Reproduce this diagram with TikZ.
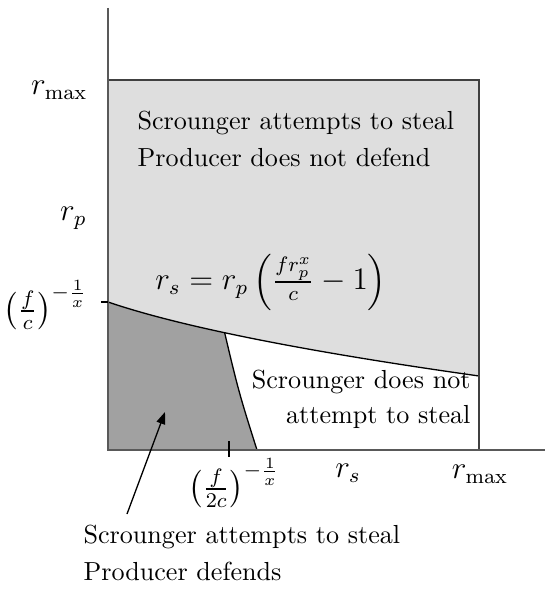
\documentclass[tikz,border=0pt]{standalone}
\usepackage{amsmath,amssymb}
\usetikzlibrary{arrows.meta}
\colorlet{lightregion}{black!13}
\colorlet{darkregion}{black!37}
\tikzset{
  axisline/.style={black!65,line width=0.6pt},
  boundary/.style={black,line width=0.5pt},
  regiontext/.style={inner sep=0pt},
  mathlabel/.style={inner sep=0pt,font=\large}
}

\begin{document}
\begin{tikzpicture}[x=0.383pt,y=-0.383pt]
  \useasboundingbox (0,0) rectangle (545,589);
  % 坐标轴与矩形区域
  \coordinate (O) at (108,450);
  \coordinate (Ytop) at (108,8);
  \coordinate (Xend) at (545,450);
  \coordinate (Rtop) at (479,80);
  \coordinate (Rbot) at (479,450);
  % 边界曲线端点
  \coordinate (P) at (108,302);
  \coordinate (Q) at (479,376);
  \coordinate (S) at (257,450);
  % 浅灰区域
  \fill[lightregion] (O) rectangle (Rtop);
  % 深灰区域（曲线以下）
  \begin{scope}
    \clip (P) .. controls (190,330) and (330,355) .. (Q) -- (Rbot) -- (O) -- cycle;
    \fill[darkregion] (O) -- (S) .. controls (238,390) .. (217,300) -- (100,290) -- (100,450) -- cycle;
    \fill[white] (S) .. controls (238,390) .. (217,300) -- (480,300) -- (Rbot) -- cycle;
    \draw[boundary] (S) .. controls (238,390) .. (217,300);
  \end{scope}
  \draw[boundary] (P) .. controls (190,330) and (330,355) .. (Q);
  \draw[black!75,line width=0.5pt] (O) rectangle (Rtop);
  \draw[axisline] (Ytop) -- (O) -- (Xend);
  % 刻度
  \draw[boundary] (101,302) -- (P);
  \draw[boundary] (229,441) -- (229,457);
  % 坐标轴标注
  \node[mathlabel,anchor=east] (ymax) at (88,90) {$r_{\max}$};
  \node[mathlabel,anchor=east] (yrp) at (87,218) {$r_p$};
  \node[mathlabel,anchor=east] (yfc) at (88,305) {$\left(\frac{f}{c}\right)^{-\frac{1}{x}}$};
  \node[mathlabel] (xf2c) at (234,483) {$\left(\frac{f}{2c}\right)^{-\frac{1}{x}}$};
  \node[mathlabel] (xrs) at (348,473) {$r_s$};
  \node[mathlabel] (xmax) at (480,474) {$r_{\max}$};
  % 区域文字
  \node[regiontext,anchor=base west] (upA) at (137,130) {Scrounger attempts to steal};
  \node[regiontext,anchor=base west] (upB) at (137,167) {Producer does not defend};
  \node[mathlabel] (curve) at (271,282) {$r_s = r_p\left(\frac{f r_p^x}{c} - 1\right)$};
  \node[regiontext,anchor=base east] (midA) at (471,388) {Scrounger does not};
  \node[regiontext,anchor=base east] (midB) at (471,423) {attempt to steal};
  \node[regiontext,anchor=base west] (lowA) at (83,543) {Scrounger attempts to steal};
  \node[regiontext,anchor=base west] (lowB) at (83,580) {Producer defends};
  % 指向深灰区域的箭头
  \coordinate (tail) at (127,514);
  \coordinate (tip) at (165,412);
  \draw[-{Triangle[length=4.6pt,width=3.4pt]},line width=0.5pt] (tail) -- (tip);
\end{tikzpicture}
\end{document}
